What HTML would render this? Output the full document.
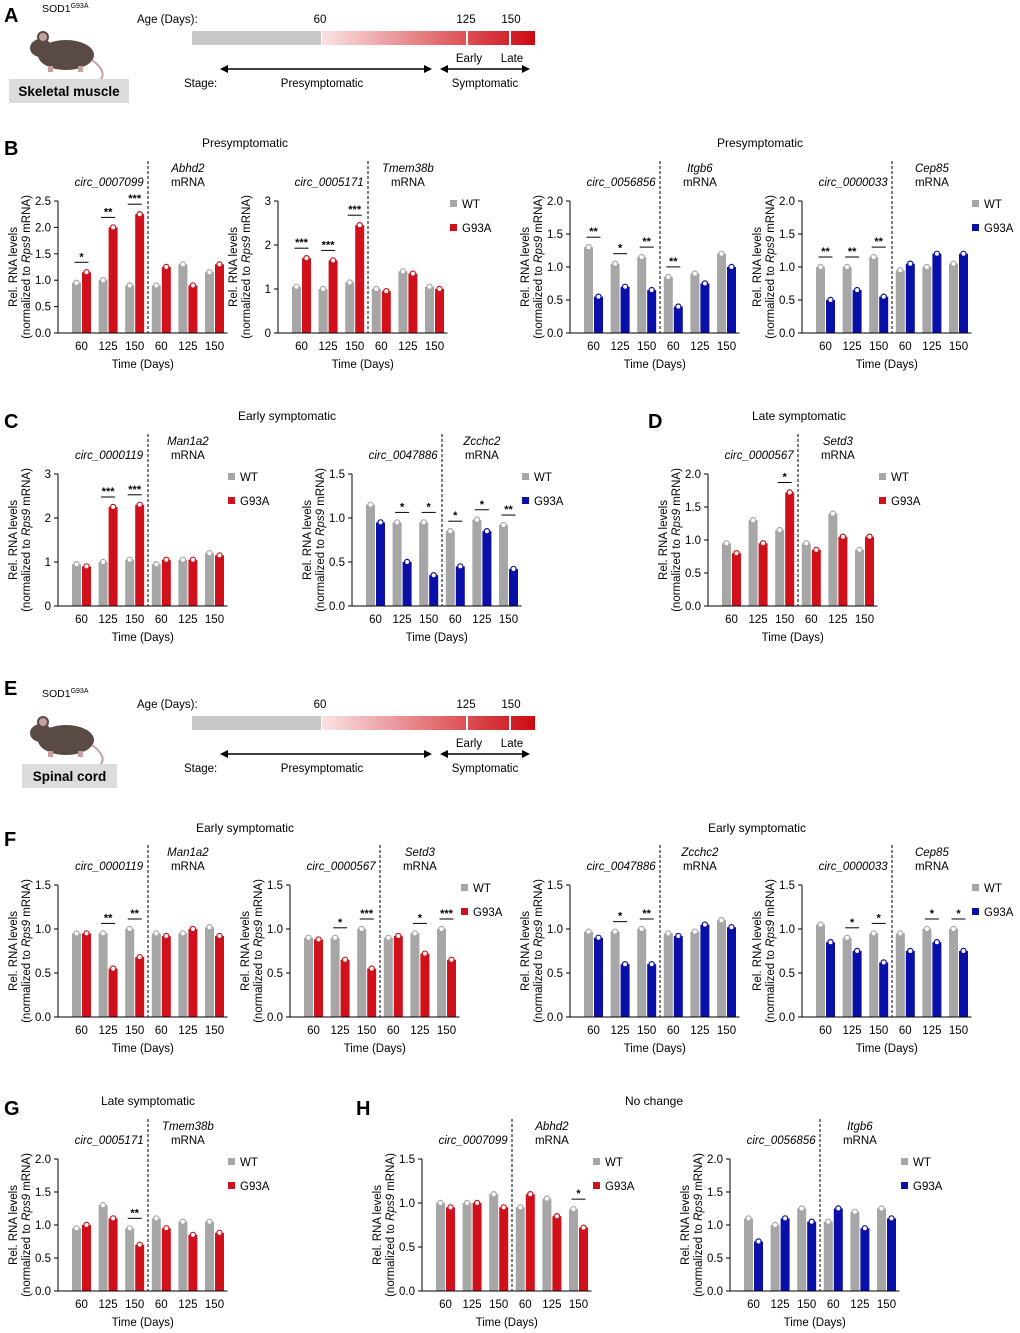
<!DOCTYPE html>
<html><head><meta charset="utf-8"><style>
body{margin:0;background:#fff}
svg{display:block;font-family:"Liberation Sans",Arial,sans-serif}
</style></head><body>
<svg id="fig" width="1020" height="1333" viewBox="0 0 1020 1333" xmlns="http://www.w3.org/2000/svg">
<defs><linearGradient id="gr" x1="0" x2="1"><stop offset="0" stop-color="#fbe3e3"/><stop offset="1" stop-color="#cc0a12"/></linearGradient></defs>
<g id="hdrA"></g>
<g id="hdrE"></g>
<g id="charts"></g>
</svg>
<script>
// ---- chart data (WT, G93A means per group: circ 60/125/150, mRNA 60/125/150) ----
const groupLabels = ["60","125","150","60","125","150"];
const b1WT=[0.95,1.0,0.9,0.9,1.3,1.15], b1MU=[1.15,2.0,2.25,1.25,0.9,1.3], b1S=["*","**","***","","",""];
const b2WT=[1.05,1.0,1.15,1.0,1.4,1.05], b2MU=[1.7,1.65,2.45,0.95,1.35,1.0], b2S=["***","***","***","","",""];
const b3WT=[1.3,1.05,1.15,0.85,0.9,1.2], b3MU=[0.55,0.7,0.65,0.4,0.75,1.0], b3S=["**","*","**","**","",""];
const b4WT=[1.0,1.0,1.15,0.95,1.0,1.05], b4MU=[0.5,0.65,0.55,1.05,1.2,1.2], b4S=["**","**","**","","",""];
const c1WT=[0.95,1.0,1.05,0.95,1.05,1.2], c1MU=[0.9,2.25,2.3,1.05,1.05,1.15], c1S=["","***","***","","",""];
const c2WT=[1.15,0.95,0.95,0.85,0.98,0.92], c2MU=[0.95,0.5,0.35,0.45,0.85,0.42], c2S=["","*","*","*","*","**"];
const d1WT=[0.95,1.3,1.15,0.95,1.4,0.85], d1MU=[0.8,0.95,1.72,0.85,1.05,1.05], d1S=["","","*","","",""];
const f1WT=[0.95,0.95,1.0,0.95,0.95,1.02], f1MU=[0.95,0.55,0.68,0.92,1.0,0.92], f1S=["","**","**","","",""];
const f2WT=[0.9,0.9,1.0,0.9,0.95,1.0], f2MU=[0.88,0.65,0.55,0.92,0.72,0.65], f2S=["","*","***","","*","***"];
const f3WT=[0.97,0.97,1.0,0.95,0.97,1.1], f3MU=[0.9,0.6,0.6,0.92,1.05,1.02], f3S=["","*","**","","",""];
const f4WT=[1.05,0.9,0.95,0.95,1.0,1.0], f4MU=[0.85,0.75,0.62,0.75,0.85,0.75], f4S=["","*","*","","*","*"];
const g1WT=[0.95,1.3,0.95,1.1,1.05,1.05], g1MU=[1.0,1.1,0.7,0.95,0.85,0.88], g1S=["","","**","","",""];
const h1WT=[1.0,1.0,1.1,0.95,1.05,0.93], h1MU=[0.95,1.0,0.95,1.1,0.85,0.72], h1S=["","","","","","*"];
const h2WT=[1.1,1.0,1.25,1.05,1.2,1.25], h2MU=[0.75,1.1,1.05,1.25,0.95,1.1], h2S=["","","","","",""];

const RED="#d0111b", BLUE="#0a0fa8", GRAY="#a6a6a6";
const NS="http://www.w3.org/2000/svg";
function el(parent,tag,attrs,text){const e=document.createElementNS(NS,tag);for(const k in attrs)e.setAttribute(k,attrs[k]);if(text!==undefined)e.textContent=text;parent.appendChild(e);return e;}

const charts=[
 {id:"b1",ax:58,y0:333,yt:201,max:2.5,step:0.5,dec:1,col:RED,circ:"circ_0007099",gene:"Abhd2",wt:b1WT,mu:b1MU,st:b1S,leg:null},
 {id:"b2",ax:278,y0:333,yt:201,max:3,step:1,dec:0,col:RED,circ:"circ_0005171",gene:"Tmem38b",wt:b2WT,mu:b2MU,st:b2S,leg:450},
 {id:"b3",ax:570,y0:333,yt:201,max:2,step:0.5,dec:1,col:BLUE,circ:"circ_0056856",gene:"Itgb6",wt:b3WT,mu:b3MU,st:b3S,leg:null},
 {id:"b4",ax:802,y0:333,yt:201,max:2,step:0.5,dec:1,col:BLUE,circ:"circ_0000033",gene:"Cep85",wt:b4WT,mu:b4MU,st:b4S,leg:972},
 {id:"c1",ax:58,y0:606,yt:474,max:3,step:1,dec:0,col:RED,circ:"circ_0000119",gene:"Man1a2",wt:c1WT,mu:c1MU,st:c1S,leg:228},
 {id:"c2",ax:352,y0:606,yt:474,max:1.5,step:0.5,dec:1,col:BLUE,circ:"circ_0047886",gene:"Zcchc2",wt:c2WT,mu:c2MU,st:c2S,leg:522},
 {id:"d1",ax:708,y0:606,yt:474,max:2,step:0.5,dec:1,col:RED,circ:"circ_0000567",gene:"Setd3",wt:d1WT,mu:d1MU,st:d1S,leg:879},
 {id:"f1",ax:58,y0:1017,yt:885,max:1.5,step:0.5,dec:1,col:RED,circ:"circ_0000119",gene:"Man1a2",wt:f1WT,mu:f1MU,st:f1S,leg:null},
 {id:"f2",ax:290,y0:1017,yt:885,max:1.5,step:0.5,dec:1,col:RED,circ:"circ_0000567",gene:"Setd3",wt:f2WT,mu:f2MU,st:f2S,leg:461},
 {id:"f3",ax:570,y0:1017,yt:885,max:1.5,step:0.5,dec:1,col:BLUE,circ:"circ_0047886",gene:"Zcchc2",wt:f3WT,mu:f3MU,st:f3S,leg:null},
 {id:"f4",ax:802,y0:1017,yt:885,max:1.5,step:0.5,dec:1,col:BLUE,circ:"circ_0000033",gene:"Cep85",wt:f4WT,mu:f4MU,st:f4S,leg:972},
 {id:"g1",ax:58,y0:1291,yt:1159,max:2,step:0.5,dec:1,col:RED,circ:"circ_0005171",gene:"Tmem38b",wt:g1WT,mu:g1MU,st:g1S,leg:228},
 {id:"h1",ax:422,y0:1291,yt:1159,max:1.5,step:0.5,dec:1,col:RED,circ:"circ_0007099",gene:"Abhd2",wt:h1WT,mu:h1MU,st:h1S,leg:593},
 {id:"h2",ax:730,y0:1291,yt:1159,max:2,step:0.5,dec:1,col:BLUE,circ:"circ_0056856",gene:"Itgb6",wt:h2WT,mu:h2MU,st:h2S,leg:901}
];

const root=document.getElementById("charts");
charts.forEach(c=>{
 const g=el(root,"g",{});
 
 
 const y=v=>c.y0-(v/c.max)*(c.y0-c.yt);
 const cx=i=>c.ax+23.5+i*26.6;
 const fs=11.5;
 for(let v=0;v<=c.max+1e-9;v+=c.step){
  el(g,"line",{x1:c.ax-4,x2:c.ax,y1:y(v),y2:y(v),stroke:"#000"});
  const t=el(g,"text",{x:c.ax-7,y:y(v)+4,"text-anchor":"end","font-size":fs},v.toFixed(c.dec));
  
  
 }
 for(let i=0;i<6;i++){
  const b1=el(g,"rect",{x:cx(i)-9.5,y:y(c.wt[i]),width:9,height:c.y0-y(c.wt[i]),fill:GRAY});
  
  
  const b2=el(g,"rect",{x:cx(i)+0.5,y:y(c.mu[i]),width:9,height:c.y0-y(c.mu[i]),fill:c.col});
  
  
  el(g,"circle",{cx:cx(i)-5,cy:y(c.wt[i]),r:2.6,fill:"#fff",stroke:GRAY,"stroke-width":1.2});
  el(g,"circle",{cx:cx(i)+5,cy:y(c.mu[i]),r:2.6,fill:"#fff",stroke:c.col,"stroke-width":1.2});
  const tl=el(g,"text",{x:cx(i),y:c.y0+17,"text-anchor":"middle","font-size":fs},groupLabels[i]);
  
  
  if(c.st[i]){
   const top=y(Math.max(c.wt[i],c.mu[i]))-10;
   el(g,"line",{x1:cx(i)-7,x2:cx(i)+7,y1:top,y2:top,stroke:"#000"});
   const s=el(g,"text",{x:cx(i),y:top-2,"text-anchor":"middle","font-size":11,"font-weight":"bold"},c.st[i]);
   
   
  }
 }
 el(g,"line",{x1:c.ax,x2:c.ax,y1:c.yt,y2:c.y0,stroke:"#000"});
 el(g,"line",{x1:c.ax,x2:cx(5)+13,y1:c.y0,y2:c.y0,stroke:"#000"});
 const dx=(cx(2)+cx(3))/2;
 el(g,"line",{x1:dx,x2:dx,y1:c.yt-40,y2:c.y0,stroke:"#000","stroke-dasharray":"3,2"});
 const ct=el(g,"text",{x:cx(1)+1,y:c.yt-15,"text-anchor":"middle","font-size":fs,"font-style":"italic"},c.circ);
 
 
 const gt=el(g,"text",{x:cx(4),y:c.yt-29,"text-anchor":"middle","font-size":fs,"font-style":"italic"},c.gene);
 
 
 el(g,"text",{x:cx(4),y:c.yt-15,"text-anchor":"middle","font-size":fs},"mRNA");
 const xt=el(g,"text",{x:(c.ax+cx(5)+13)/2,y:c.y0+35,"text-anchor":"middle","font-size":fs},"Time (Days)");
 
 
 const my=(c.yt+c.y0)/2;
 const yt1=el(g,"text",{transform:`translate(${c.ax-41},${my}) rotate(-90)`,"text-anchor":"middle","font-size":fs},"Rel. RNA levels");
 
 
 const yt2=el(g,"text",{transform:`translate(${c.ax-28},${my}) rotate(-90)`,"text-anchor":"middle","font-size":fs});
 el(yt2,"tspan",{},"(normalized to ");
 el(yt2,"tspan",{"font-style":"italic"},"Rps9");
 el(yt2,"tspan",{}," mRNA)");
 if(c.leg){
  const l1=el(g,"g",{});
  
  
  el(l1,"rect",{x:c.leg,y:c.yt-1,width:7,height:7,fill:GRAY});
  el(l1,"text",{x:c.leg+12,y:c.yt+7,"font-size":fs},"WT");
  const l2=el(g,"g",{});
  
  
  el(l2,"rect",{x:c.leg,y:c.yt+23,width:7,height:7,fill:c.col});
  el(l2,"text",{x:c.leg+12,y:c.yt+31,"font-size":fs},"G93A");
 }
});

const letters=[["A",4,22],["B",4,155],["C",4,428],["D",648,428],["E",4,695],["F",4,846],["G",4,1115],["H",356,1115]];
letters.forEach(l=>{const t=el(root,"text",{x:l[1],y:l[2],"font-size":20,"font-weight":"bold"},l[0]);
 
 });
const heads=[["Presymptomatic",245,147],["Presymptomatic",760,147],["Early symptomatic",287,420],["Late symptomatic",799,420],["Early symptomatic",245,832],["Early symptomatic",757,832],["Late symptomatic",148,1105],["No change",654,1105]];
heads.forEach(h=>{const t=el(root,"text",{x:h[1],y:h[2],"font-size":12,"text-anchor":"middle"},h[0]);
 
 });

function header(gid,dy,tissue,bx,bw){
 const g=document.getElementById(gid);
 const s=el(g,"text",{x:42,y:12+dy,"font-size":10.5});s.textContent="SOD1";el(s,"tspan",{"font-size":7,dy:-4},"G93A");
 const m=el(g,"g",{});
 
 
 el(m,"ellipse",{cx:66,cy:55+dy,rx:28,ry:15,fill:"#5a4a45"});
 el(m,"ellipse",{cx:41,cy:48+dy,rx:11,ry:9,fill:"#5a4a45"});
 el(m,"circle",{cx:43,cy:37+dy,r:5,fill:"#c9a0a0",stroke:"#5a4a45","stroke-width":2});
 el(m,"path",{d:`M92 ${60+dy} Q108 ${72+dy} 100 ${80+dy}`,stroke:"#c9a0a0","stroke-width":2,fill:"none"});
 el(m,"rect",{x:48,y:66+dy,width:5,height:6,fill:"#c9a0a0"});el(m,"rect",{x:78,y:66+dy,width:5,height:6,fill:"#c9a0a0"});
 const b=el(g,"g",{});
 
 
 el(b,"rect",{x:bx,y:79+dy,width:bw,height:24,fill:"#dcdcdc"});
 el(b,"text",{x:bx+bw/2,y:96+dy,"text-anchor":"middle","font-size":13.5,"font-weight":"bold"},tissue);
 el(g,"text",{x:137,y:23+dy,"font-size":11.5},"Age (Days):");
 el(g,"rect",{x:192,y:31+dy,width:129,height:14,fill:"#c8c8c8"});
 el(g,"rect",{x:322,y:31+dy,width:213,height:14,fill:"url(#gr)"});
 el(g,"line",{x1:467,x2:467,y1:31+dy,y2:45+dy,stroke:"#fff","stroke-width":2});
 el(g,"line",{x1:510,x2:510,y1:31+dy,y2:45+dy,stroke:"#fff","stroke-width":2});
 [["60",320],["125",466],["150",511]].forEach(a=>el(g,"text",{x:a[1],y:23+dy,"text-anchor":"middle","font-size":11.5},a[0]));
 el(g,"line",{x1:224,x2:428,y1:69+dy,y2:69+dy,stroke:"#000","stroke-width":1.5});
 el(g,"path",{d:`M220 ${69+dy} l8 -4 v8 z M432 ${69+dy} l-8 -4 v8 z`,fill:"#000"});
 el(g,"line",{x1:444,x2:526,y1:69+dy,y2:69+dy,stroke:"#000","stroke-width":1.5});
 el(g,"path",{d:`M440 ${69+dy} l8 -4 v8 z M530 ${69+dy} l-8 -4 v8 z`,fill:"#000"});
 el(g,"text",{x:469,y:62+dy,"text-anchor":"middle","font-size":11.5},"Early");
 el(g,"text",{x:512,y:62+dy,"text-anchor":"middle","font-size":11.5},"Late");
 el(g,"text",{x:184,y:87+dy,"font-size":11.5},"Stage:");
 el(g,"text",{x:322,y:87+dy,"text-anchor":"middle","font-size":11.5},"Presymptomatic");
 el(g,"text",{x:485,y:87+dy,"text-anchor":"middle","font-size":11.5},"Symptomatic");
}
header("hdrA",0,"Skeletal muscle",9,120);
header("hdrE",685,"Spinal cord",22,95);
</script>
</body></html>
